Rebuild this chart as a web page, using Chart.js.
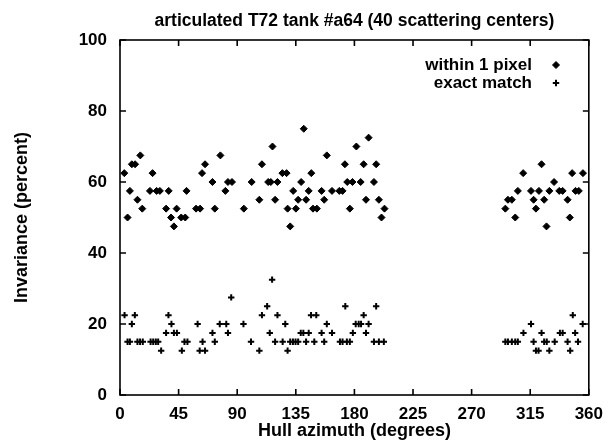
<!DOCTYPE html>
<html>
<head>
<meta charset="utf-8">
<script src="https://cdn.jsdelivr.net/npm/chart.js@4.4.1/dist/chart.umd.min.js"></script>
<style>
  html, body { margin: 0; padding: 0; background: #fff; }
  #wrap { width: 612px; height: 442px; position: relative; }
</style>
</head>
<body>
<div id="wrap"><canvas id="chart"></canvas></div>
<script>
// --- data ---
const titleText = 'articulated T72 tank #a64 (40 scattering centers)';
const xLabel = 'Hull azimuth (degrees)';
const yLabel = 'Invariance (percent)';
const xTicks = [0, 45, 90, 135, 180, 225, 270, 315, 360];
const yTicks = [0, 20, 40, 60, 80, 100];

// within 1 pixel
const withinAz = [3.3, 5.8, 7.6, 9.1, 11.6, 13.4, 15.6, 17.1, 23.0, 25.0, 28.1, 30.6, 35.4, 37.4, 39.2, 41.4, 43.5,
  47.0, 50.1, 51.1, 58.4, 61.5, 63.0, 65.3, 71.0, 72.8, 77.1, 80.9, 82.9, 86.0, 95.1, 101.1, 107.0, 109.0,
  113.8, 115.8, 117.1, 119.1, 120.9, 124.7, 127.9, 128.7, 130.7, 133.0, 135.1, 136.8, 139.1, 141.1, 142.9,
  144.9, 146.9, 148.2, 151.2, 154.8, 156.8, 158.8, 162.8, 168.4, 170.9, 172.7, 174.5, 176.5, 178.5, 181.5,
  184.8, 187.1, 188.9, 190.9, 195.0, 196.7, 198.8, 200.8, 203.1,
  295.9, 297.9, 300.9, 303.5, 305.5, 309.6, 315.6, 317.6, 319.4, 321.7, 323.7, 325.7, 327.5, 329.7, 333.3,
  337.3, 339.9, 343.7, 345.4, 347.2, 349.8, 352.3, 355.5];
const withinVal = [62.5, 50, 57.5, 65, 65, 55, 67.5, 52.5, 57.5, 62.5, 57.5, 57.5, 52.5, 57.5, 50, 47.5, 52.5,
  50, 50, 57.5, 52.5, 52.5, 62.5, 65, 60, 52.5, 67.5, 57.5, 60, 60, 52.5, 60, 55, 65,
  60, 60, 70, 55, 60, 62.5, 62.5, 52.5, 47.5, 57.5, 52.5, 55, 60, 75, 55,
  57.5, 62.5, 52.5, 52.5, 57.5, 55, 67.5, 57.5, 57.5, 57.5, 65, 60, 52.5, 60, 70,
  60, 65, 55, 72.5, 60, 65, 55, 50, 52.5,
  52.5, 55, 55, 50, 57.5, 62.5, 57.5, 55, 52.5, 57.5, 65, 55, 47.5, 57.5, 60,
  57.5, 57.5, 55, 50, 62.5, 57.5, 57.5, 62.5];

// exact match
const exactAz = [3.5, 5.8, 7.6, 9.1, 11.4, 13.4, 15.4, 17.5, 23.5, 25.5, 27.5, 29.3, 31.6, 35.4, 37.2, 39.5, 41.4,
  43.7, 47.5, 49.5, 51.8, 59.6, 61.2, 63.4, 65.3, 71.0, 72.8, 76.6, 81.6, 82.9, 85.4, 94.8, 100.6, 107.0,
  109.0, 113.0, 115.0, 116.8, 119.1, 120.9, 124.9, 126.9, 128.7, 130.7, 132.8, 134.8, 136.8, 138.8, 140.8,
  142.9, 144.9, 146.7, 149.2, 150.7, 154.8, 156.8, 158.8, 162.8, 168.9, 170.9, 173.0, 174.2, 176.5, 178.8,
  181.0, 183.3, 185.1, 187.1, 188.9, 190.9, 195.0, 196.7, 198.8, 202.6,
  295.9, 297.9, 300.9, 303.5, 305.5, 309.8, 315.6, 317.6, 319.4, 321.4, 323.7, 325.7, 327.7, 329.7, 333.8,
  337.8, 339.9, 343.7, 345.7, 347.7, 349.5, 351.7, 355.3];
const exactVal = [22.5, 15, 15, 20, 22.5, 15, 15, 15, 15, 15, 15, 15, 12.5, 17.5, 22.5, 20, 17.5,
  17.5, 12.5, 15, 15, 20, 12.5, 15, 12.5, 17.5, 15, 20, 20, 17.5, 27.5, 20, 15, 12.5,
  22.5, 25, 17.5, 32.5, 15, 22.5, 15, 20, 12.5, 15, 15, 15, 15, 17.5, 17.5,
  15, 17.5, 22.5, 15, 22.5, 17.5, 15, 20, 17.5, 15, 15, 25, 15, 15, 17.5,
  20, 20, 20, 22.5, 17.5, 20, 15, 25, 15, 15,
  15, 15, 15, 15, 15, 17.5, 20, 15, 12.5, 12.5, 17.5, 15, 15, 12.5, 15,
  17.5, 17.5, 15, 12.5, 22.5, 17.5, 15, 20];

const seriesNames = ['within 1 pixel', 'exact match'];

const FONT = '"Liberation Sans", Arial, sans-serif';
const INK = '#000';

function pts(xs, ys) {
  return xs.map((x, i) => ({ x: x, y: ys[i] }));
}

// box, inward ticks, title and legend drawn gnuplot-style
const framePlugin = {
  id: 'frame',
  afterDraw(chart) {
    const ctx = chart.ctx;
    const a = chart.chartArea;
    const xs = chart.scales.x, ys = chart.scales.y;
    ctx.save();
    ctx.strokeStyle = INK;
    ctx.lineWidth = 1.6;
    ctx.strokeRect(a.left, a.top, a.right - a.left, a.bottom - a.top);
    ctx.beginPath();
    xTicks.forEach(t => {
      const px = xs.getPixelForValue(t);
      ctx.moveTo(px, a.bottom); ctx.lineTo(px, a.bottom - 6);
      ctx.moveTo(px, a.top); ctx.lineTo(px, a.top + 6);
    });
    yTicks.forEach(t => {
      const py = ys.getPixelForValue(t);
      ctx.moveTo(a.left, py); ctx.lineTo(a.left + 6, py);
      ctx.moveTo(a.right, py); ctx.lineTo(a.right - 6, py);
    });
    ctx.stroke();

    // title
    ctx.fillStyle = INK;
    ctx.font = 'bold 17.5px ' + FONT;
    ctx.textAlign = 'center';
    ctx.textBaseline = 'middle';
    ctx.fillText(titleText, (a.left + a.right) / 2, 21);

    // legend
    ctx.font = 'bold 17px ' + FONT;
    ctx.textAlign = 'right';
    const rows = [65, 83];
    chart.data.datasets.forEach((ds, i) => {
      ctx.fillStyle = INK;
      ctx.fillText(ds.label, 532, rows[i]);
      ctx.strokeStyle = INK;
      ctx.lineWidth = ds.borderWidth;
      Chart.helpers.drawPoint(ctx, {
        pointStyle: ds.pointStyle,
        radius: ds.pointRadius,
        borderWidth: ds.borderWidth
      }, 556, rows[i]);
    });
    ctx.restore();
  }
};

const tickFont = { family: FONT, size: 17, weight: 'bold' };
const labelFont = { family: FONT, size: 18, weight: 'bold' };

new Chart(document.getElementById('chart'), {
  type: 'scatter',
  data: {
    datasets: [
      {
        label: seriesNames[0],
        data: pts(withinAz, withinVal),
        pointStyle: 'rectRot',
        pointRadius: 3.5,
        backgroundColor: INK,
        borderColor: INK,
        borderWidth: 1
      },
      {
        label: seriesNames[1],
        data: pts(exactAz, exactVal),
        pointStyle: 'cross',
        pointRadius: 3.2,
        backgroundColor: INK,
        borderColor: INK,
        borderWidth: 2
      }
    ]
  },
  options: {
    responsive: true,
    maintainAspectRatio: false,
    animation: false,
    layout: { padding: { top: 40, right: 17, left: 0, bottom: 0 } },
    plugins: {
      legend: { display: false },
      title: { display: false },
      tooltip: { enabled: false }
    },
    scales: {
      x: {
        type: 'linear',
        min: 0, max: 360,
        afterBuildTicks: s => { s.ticks = xTicks.map(v => ({ value: v })); },
        afterFit: s => { s.height = 47; },
        grid: { display: false, drawTicks: false },
        border: { display: false },
        ticks: { color: INK, font: tickFont, padding: 9, maxRotation: 0 },
        title: { display: true, text: xLabel, color: INK, font: labelFont, padding: { top: 0, bottom: 0 } }
      },
      y: {
        min: 0, max: 100,
        afterBuildTicks: s => { s.ticks = yTicks.map(v => ({ value: v })); },
        afterFit: s => { s.width = 120; },
        grid: { display: false, drawTicks: false },
        border: { display: false },
        ticks: { color: INK, font: tickFont, padding: 13 },
        title: { display: true, text: yLabel, color: INK, font: labelFont, padding: { top: 11, bottom: 0 } }
      }
    }
  },
  plugins: [framePlugin]
});
</script>
</body>
</html>
